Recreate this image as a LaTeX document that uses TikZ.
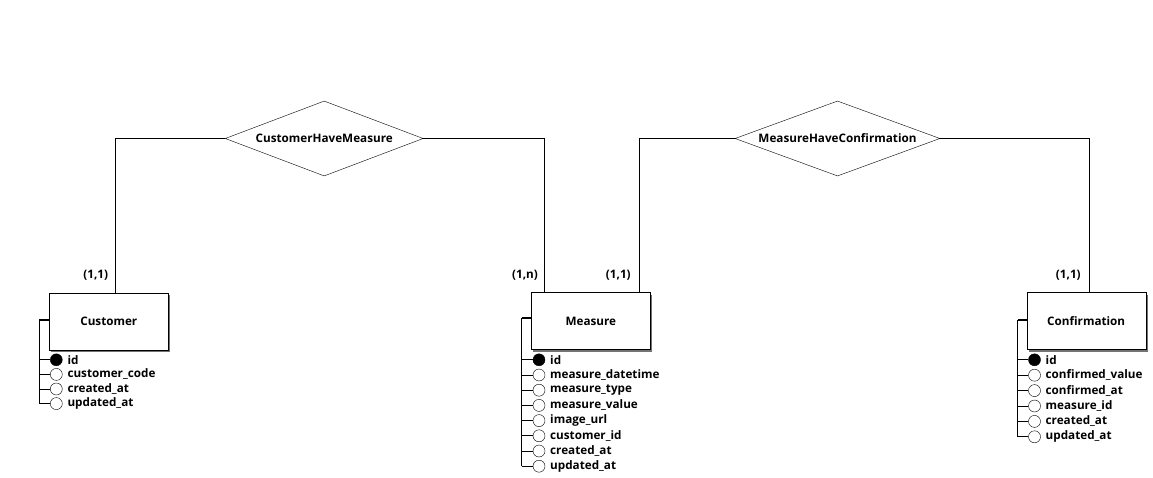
\documentclass[tikz,border=0pt]{standalone}
\usepackage{fontspec}
\setmainfont{Open Sans}
\usetikzlibrary{shapes.geometric,shadows,calc}
\begin{document}
\begin{tikzpicture}[x=1pt,y=-1pt,
  every node/.style={font=\fontsize{11.7}{14}\selectfont\bfseries},
  entity/.style={draw,fill=white,rectangle,minimum width=119pt,minimum height=57pt,inner sep=0pt,
     drop shadow={shadow xshift=2pt,shadow yshift=-2pt,fill=black!55,opacity=1}},
  rel/.style={draw,fill=white,diamond,inner sep=0pt,minimum height=75pt},
  attrc/.style={draw,circle,minimum size=12pt,inner sep=0pt,fill=white},
  keyc/.style={attrc,fill=black},
  attrt/.style={anchor=west,inner sep=0pt},
  card/.style={inner sep=0pt},
  conn/.style={line width=0.8pt},
  bar/.style={line width=2pt},
  thin/.style={line width=0.8pt}
]
\useasboundingbox (0,0) rectangle (1153,478);

% entities
\node[entity] (customer) at (108.8,321.5) {Customer};
\node[entity] (measure) at (590.8,321) {Measure};
\node[entity] (confirmation) at (1086.2,321) {Confirmation};

% relationships
\node[rel,minimum width=198pt,aspect=2.64] (chm) at (324.2,138.5) {CustomerHaveMeasure};
\node[rel,minimum width=205pt,aspect=2.73] (mhc) at (837.5,138.5) {MeasureHaveConfirmation};

% attachment points on entity tops
\coordinate (cuT) at (115.3,0);
\coordinate (meL) at (544.3,0);
\coordinate (meR) at (639.3,0);
\coordinate (coT) at (1089.3,0);

\draw[conn] (chm.west) -| (cuT |- customer.north);
\draw[conn] (chm.east) -| (meL |- measure.north);
\draw[conn] (mhc.west) -| (meR |- measure.north);
\draw[conn] (mhc.east) -| (coT |- confirmation.north);

% cardinalities
\node[card] (k1) at (95.7,275.7) {(1,1)};
\node[card] (k2) at (525,275.7) {(1,n)};
\node[card] (k3) at (618.3,275.7) {(1,1)};
\node[card] (k4) at (1068.3,275.7) {(1,1)};

% attributes: Customer
\coordinate (cuB) at (39.3,320);
\draw[bar] (customer.west |- cuB) -- (cuB);
\foreach \lab [count=\i from 0] in {id,customer\_code,created\_at,updated\_at}{
  \pgfmathsetmacro\yy{359.8+14.6*\i}
  \ifnum\i=0 \node[keyc] (cu\i) at (56.3,\yy) {};
  \else \node[attrc] (cu\i) at (56.3,\yy) {};\fi
  \node[attrt] (cut\i) at (67.3,\yy) {\lab};
  \draw[thin] (cuB |- cu\i) -- (cu\i.west);
}
\draw[thin] (cuB) -- (cuB |- cu3);

% attributes: Measure
\coordinate (meB) at (521.7,317.7);
\draw[bar] (measure.west |- meB) -- (meB);
\foreach \lab [count=\i from 0] in {id,measure\_datetime,measure\_type,measure\_value,image\_url,customer\_id,created\_at,updated\_at}{
  \pgfmathsetmacro\yy{359.8+15.2*\i}
  \ifnum\i=0 \node[keyc] (me\i) at (539,\yy) {};
  \else \node[attrc] (me\i) at (539,\yy) {};\fi
  \node[attrt] (met\i) at (550,\yy) {\lab};
  \draw[thin] (meB |- me\i) -- (me\i.west);
}
\draw[thin] (meB) -- (meB |- me7);

% attributes: Confirmation
\coordinate (coB) at (1017.5,320);
\draw[bar] (confirmation.west |- coB) -- (coB);
\foreach \lab [count=\i from 0] in {id,confirmed\_value,confirmed\_at,measure\_id,created\_at,updated\_at}{
  \pgfmathsetmacro\yy{359.8+15.4*\i}
  \ifnum\i=0 \node[keyc] (co\i) at (1034.5,\yy) {};
  \else \node[attrc] (co\i) at (1034.5,\yy) {};\fi
  \node[attrt] (cot\i) at (1045.5,\yy) {\lab};
  \draw[thin] (coB |- co\i) -- (co\i.west);
}
\draw[thin] (coB) -- (coB |- co5);
\end{tikzpicture}
\end{document}
